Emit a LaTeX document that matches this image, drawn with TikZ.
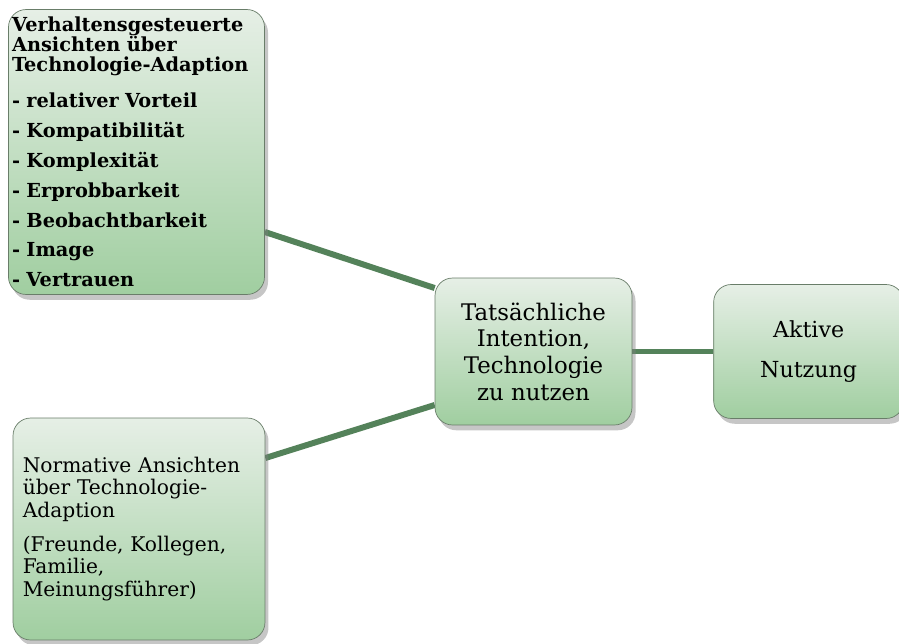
\documentclass[tikz,border=0pt]{standalone}
\usepackage{fontspec}
\setmainfont{DejaVu Serif}
\usetikzlibrary{positioning,shadows,backgrounds}
\definecolor{boxtop}{RGB}{230,239,230}
\definecolor{boxbot}{RGB}{160,206,160}
\definecolor{boxline}{RGB}{105,125,105}
\definecolor{linkgreen}{RGB}{84,130,90}

\begin{document}
\begin{tikzpicture}[
  x=0.02cm, y=-0.02cm,
  box/.style={draw=boxline, rounded corners=10pt, top color=boxtop,
              bottom color=boxbot, inner sep=2pt,
              drop shadow={shadow xshift=2pt, shadow yshift=-3pt, opacity=0.45}},
  link/.style={draw=linkgreen, line width=3.4pt}
]
\clip (0,0) rectangle (899,643);

\node[box, minimum width=5.06cm, minimum height=5.7cm, text width=4.98cm,
      align=left, font=\bfseries\fontsize{11}{11.4}\selectfont]
  (verhalten) at (136.5,152)
  {Verhaltensgesteuerte\\Ansichten über\\Technologie-Adaption\\[9pt]
   - relativer Vorteil\\[5.6pt]
   - Kompatibilität\\[5.6pt]
   - Komplexität\\[5.6pt]
   - Erprobbarkeit\\[5.6pt]
   - Beobachtbarkeit\\[5.6pt]
   - Image\\[5.6pt]
   - Vertrauen};

\node[box, minimum width=3.94cm, minimum height=2.94cm, align=center,
      font=\fontsize{13}{15.2}\selectfont]
  (intention) at (533.5,351.5)
  {Tatsächliche\\Intention,\\Technologie\\zu nutzen};

\node[box, minimum width=3.8cm, minimum height=2.68cm, align=center,
      font=\fontsize{12.6}{23}\selectfont, right=1.62cm of intention]
  (nutzung) {Aktive\\Nutzung};

\node[box, minimum width=5.04cm, minimum height=4.44cm, text width=4.65cm,
      align=left, font=\fontsize{11.5}{13}\selectfont]
  (normativ) at (139,529)
  {Normative Ansichten\\über Technologie-\\Adaption\\[6pt]
   (Freunde, Kollegen,\\Familie,\\Meinungsführer)};

\begin{scope}[on background layer]
\draw[link] ([yshift=-1.6cm]verhalten.east) -- ([yshift=1.27cm]intention.west);
\draw[link] ([yshift=1.42cm]normativ.east) -- ([yshift=-1.07cm]intention.west);
\draw[link] (intention) -- (nutzung);
\end{scope}
\end{tikzpicture}
\end{document}
